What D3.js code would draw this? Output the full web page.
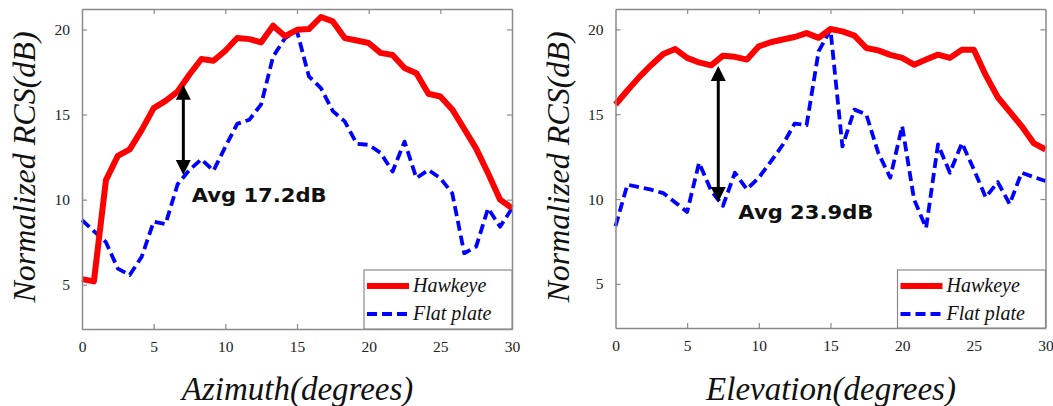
<!DOCTYPE html>
<html>
<head>
<meta charset="utf-8">
<script src="https://cdn.jsdelivr.net/npm/d3@7"></script>
<style>
  body { margin: 0; background: #fff; }
  svg { display: block; }
  .serif { font-family: "Liberation Serif", "Times New Roman", Times, Tinos, "Noto Serif", "DejaVu Serif",
           "Nimbus Roman", "Nimbus Roman No9 L", FreeSerif, "Bitstream Vera Serif", Georgia, serif; }
  .note { font-family: "DejaVu Sans", "Noto Sans", sans-serif; font-weight: bold; }
</style>
</head>
<body>
<svg id="chart" width="1053" height="406"></svg>
<script>
// Sampled angles (degrees), shared by both sweeps
const angles = [0, 0.83, 1.67, 2.5, 3.33, 4.17, 5, 5.83, 6.67, 7.5, 8.33, 9.17, 10, 10.83,
  11.67, 12.5, 13.33, 14.17, 15, 15.83, 16.67, 17.5, 18.33, 19.17, 20, 20.83, 21.67, 22.5,
  23.33, 24.17, 25, 25.83, 26.67, 27.5, 28.33, 29.17, 30];

// Azimuth sweep, normalized RCS (dB)
const azHawkeye = [5.33, 5.2, 11.15, 12.57, 12.95, 14.1, 15.38, 15.8, 16.35, 17.35, 18.26, 18.16,
  18.75, 19.5, 19.43, 19.24, 20.22, 19.6, 19.98, 20.02, 20.73, 20.47, 19.49, 19.35, 19.2, 18.62,
  18.5, 17.73, 17.43, 16.22, 16.06, 15.3, 14.15, 13.0, 11.55, 10.0, 9.5];
const azFlat = [8.8, 8.15, 7.5, 5.95, 5.57, 6.65, 8.7, 8.57, 10.9, 11.75, 12.37, 11.7, 13.1, 14.45,
  14.69, 15.6, 18.4, 19.49, 19.9, 17.24, 16.55, 15.2, 14.6, 13.28, 13.22, 12.75, 11.65, 13.41,
  11.26, 11.75, 11.26, 10.38, 6.85, 7.24, 9.49, 8.41, 9.49];

// Elevation sweep, normalized RCS (dB)
const elHawkeye = [15.57, 16.4, 17.2, 17.9, 18.55, 18.84, 18.32, 18.05, 17.88, 18.45, 18.38, 18.22,
  19.0, 19.24, 19.4, 19.55, 19.78, 19.5, 20.02, 19.88, 19.63, 18.9, 18.76, 18.5, 18.32, 17.92,
  18.22, 18.51, 18.32, 18.8, 18.8, 17.3, 16.0, 15.15, 14.3, 13.3, 12.92];
const elFlat = [8.4, 10.85, 10.7, 10.55, 10.35, 9.8, 9.24, 12.14, 10.5, 9.6, 11.55, 10.57, 11.26,
  12.2, 13.2, 14.45, 14.35, 18.7, 19.98, 13.1, 15.27, 14.98, 12.73, 11.26, 14.3, 9.98, 8.3, 13.22,
  11.55, 13.3, 11.75, 10.1, 11.0, 9.7, 11.55, 11.3, 11.06];

// Tick values
const xTicks = [0, 5, 10, 15, 20, 25, 30];
const yTicks = [5, 10, 15, 20];

// Series names
const seriesNames = ["Hawkeye", "Flat plate"];

// Average-gap annotations: arrow angle, arrow ends (dB), label
const azGap = { angle: 7.07, top: 16.75, bottom: 11.45, label: "Avg 17.2dB", labelAngle: 7.65, labelDb: 9.88 };
const elGap = { angle: 7.17, top: 17.84, bottom: 9.82, label: "Avg 23.9dB", labelAngle: 8.57, labelDb: 8.85 };

const svg = d3.select("#chart");
const AXIS = "#8a8a8a";

function drawPanel(cfg) {
  const x = d3.scaleLinear().domain([0, 30]).range([cfg.left, cfg.right]);
  const y = d3.scaleLinear().domain([2.4, 21.2]).range([cfg.bottom, cfg.top]);
  const g = svg.append("g");

  // Lines
  const line = d3.line().x((d, i) => x(angles[i])).y(d => y(d));
  g.append("path").datum(cfg.flat)
    .attr("d", line).attr("fill", "none")
    .attr("stroke", "#0000ff").attr("stroke-width", 3.8)
    .attr("stroke-dasharray", "10,5").attr("stroke-linejoin", "round");
  g.append("path").datum(cfg.hawk)
    .attr("d", line).attr("fill", "none")
    .attr("stroke", "#ff0000").attr("stroke-width", 6)
    .attr("stroke-linejoin", "round");

  // Axes box with inward ticks on every side
  const tickLen = 5;
  const axB = d3.axisBottom(x).tickValues(xTicks).tickSizeInner(-tickLen).tickSizeOuter(0).tickPadding(12);
  const axT = d3.axisTop(x).tickValues(xTicks).tickSizeInner(-tickLen).tickSizeOuter(0).tickFormat("");
  const axL = d3.axisLeft(y).tickValues(yTicks).tickSizeInner(-tickLen).tickSizeOuter(0).tickPadding(12);
  const axR = d3.axisRight(y).tickValues(yTicks).tickSizeInner(-tickLen).tickSizeOuter(0).tickFormat("");

  const gb = g.append("g").attr("transform", `translate(0,${cfg.bottom})`).call(axB);
  const gt = g.append("g").attr("transform", `translate(0,${cfg.top})`).call(axT);
  const gl = g.append("g").attr("transform", `translate(${cfg.left},0)`).call(axL);
  const gr = g.append("g").attr("transform", `translate(${cfg.right},0)`).call(axR);
  [gb, gt, gl, gr].forEach(a => {
    a.attr("font-family", null).attr("font-size", null);
    a.select(".domain").attr("stroke", AXIS).attr("stroke-width", 1.5);
    a.selectAll(".tick line").attr("stroke", AXIS).attr("stroke-width", 1.2);
    a.selectAll(".tick text").attr("fill", "#222").attr("class", "serif").style("font-size", "15.5px");
  });
  gb.selectAll(".tick text").attr("dy", "0.71em");
  // end ticks would sit on the frame corners
  gb.selectAll(".tick line").filter(d => d === 0 || d === 30).remove();
  gt.selectAll(".tick line").filter(d => d === 0 || d === 30).remove();

  // Gap arrow
  const ax = x(cfg.gap.angle), yTop = y(cfg.gap.top), yBot = y(cfg.gap.bottom);
  const head = 15, hw = 7.5;
  g.append("line").attr("x1", ax).attr("x2", ax)
    .attr("y1", yTop + head - 1).attr("y2", yBot - head + 1)
    .attr("stroke", "#000").attr("stroke-width", 3);
  g.append("path").attr("d", `M${ax},${yTop} L${ax - hw},${yTop + head} L${ax + hw},${yTop + head} Z`).attr("fill", "#000");
  g.append("path").attr("d", `M${ax},${yBot} L${ax - hw},${yBot - head} L${ax + hw},${yBot - head} Z`).attr("fill", "#000");

  g.append("text").attr("class", "note")
    .attr("x", x(cfg.gap.labelAngle)).attr("y", y(cfg.gap.labelDb))
    .style("font-size", "20px")
    .attr("textLength", 135).attr("lengthAdjust", "spacingAndGlyphs")
    .attr("fill", "#111")
    .text(cfg.gap.label);

  // Legend
  const lw = 148, lh = cfg.bottom - 270;
  const lx = cfg.right - lw, ly = 270;
  const lg = g.append("g");
  lg.append("rect").attr("x", lx).attr("y", ly).attr("width", lw).attr("height", lh)
    .attr("fill", "#fff").attr("stroke", AXIS).attr("stroke-width", 1.2);
  const entries = [
    { name: seriesNames[0], color: "#ff0000", width: 6, dash: null },
    { name: seriesNames[1], color: "#0000ff", width: 3.8, dash: "10,5" }
  ];
  entries.forEach((e, i) => {
    const cy = ly + 16 + i * 28;
    lg.append("line").attr("x1", lx + 3).attr("x2", lx + 45).attr("y1", cy).attr("y2", cy)
      .attr("stroke", e.color).attr("stroke-width", e.width)
      .attr("stroke-dasharray", e.dash);
    lg.append("text").attr("class", "serif").attr("x", lx + 49).attr("y", cy + 6)
      .style("font-style", "italic").style("font-size", "20px")
      .attr("fill", "#111").text(e.name);
  });

  // Axis titles
  g.append("text").attr("class", "serif")
    .attr("transform", `translate(${cfg.left - 47},167) rotate(-90)`)
    .attr("text-anchor", "middle")
    .style("font-style", "italic").style("font-size", "32px")
    .attr("fill", "#111").text("Normalized RCS(dB)");
  g.append("text").attr("class", "serif")
    .attr("x", (cfg.left + cfg.right) / 2 + 0.5).attr("y", 400)
    .attr("text-anchor", "middle")
    .style("font-style", "italic").style("font-size", "33px")
    .attr("fill", "#111").text(cfg.xLabel);
}

drawPanel({ left: 82, right: 512, top: 9, bottom: 329, hawk: azHawkeye, flat: azFlat,
  gap: azGap, xLabel: "Azimuth(degrees)" });
drawPanel({ left: 615.5, right: 1045.5, top: 9, bottom: 328, hawk: elHawkeye, flat: elFlat,
  gap: elGap, xLabel: "Elevation(degrees)" });
</script>
</body>
</html>
